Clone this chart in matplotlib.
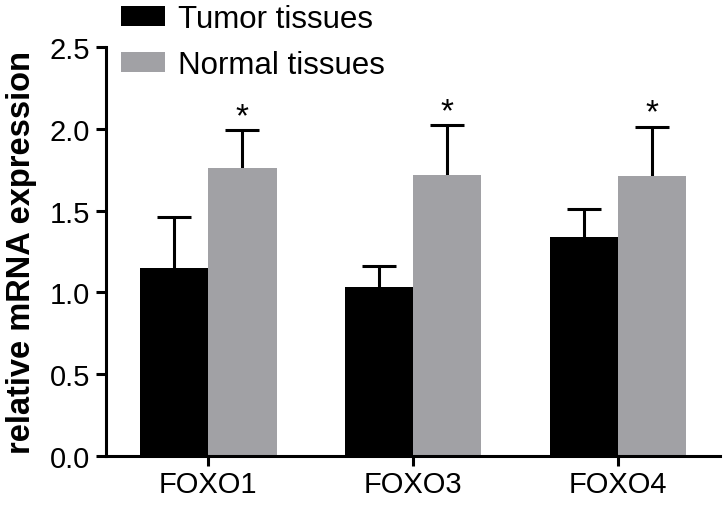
"""Relative mRNA expression of FOXO genes in tumor vs normal tissues."""

import numpy as np
import matplotlib
matplotlib.use("Agg")
import matplotlib.pyplot as plt

genes = ["FOXO1", "FOXO3", "FOXO4"]
tumor_mean = [1.15, 1.03, 1.34]
tumor_err = [0.31, 0.13, 0.17]
normal_mean = [1.76, 1.72, 1.71]
normal_err = [0.23, 0.30, 0.30]
significance = ["*", "*", "*"]
series_labels = ["Tumor tissues", "Normal tissues"]
y_ticks = [0.0, 0.5, 1.0, 1.5, 2.0, 2.5]

plt.rcParams["font.family"] = ["Liberation Sans", "DejaVu Sans"]

fig = plt.figure(figsize=(7.23, 5.10), dpi=100)
ax = fig.add_axes([0.1466, 0.104, 0.8494, 0.802])

x = np.arange(len(genes))
width = 1 / 3
lw = 2.2


def _bars_with_upper_error(xpos, mean, err, color, label):
    """Bars with an upper-only error whisker and a single top cap."""
    mean = np.asarray(mean)
    err = np.asarray(err)
    ax.bar(xpos, mean, width, color=color, label=label, zorder=2)
    ax.errorbar(xpos, mean, yerr=[np.zeros(len(mean)), err], fmt="none",
                ecolor="black", elinewidth=lw, capsize=0, zorder=1)
    ax.plot(xpos, mean + err, ls="none", marker="_", markersize=24,
            markeredgewidth=lw, color="black", zorder=3)


_bars_with_upper_error(x - width / 2, tumor_mean, tumor_err, "black", series_labels[0])
_bars_with_upper_error(x + width / 2, normal_mean, normal_err, "#a1a1a5", series_labels[1])

for xi, m, e, s in zip(x, normal_mean, normal_err, significance):
    ax.annotate(s, (xi + width / 2, m + e), xytext=(0, -1),
                textcoords="offset points", ha="center", va="bottom",
                fontsize=24)

ax.set_xlim(-0.5, 2.5)
ax.set_ylim(0, 2.5)
ax.set_yticks(y_ticks)
ax.set_yticklabels([f"{t:.1f}" for t in y_ticks])
ax.set_xticks(x)
ax.set_xticklabels(genes)
ax.tick_params(axis="both", labelsize=21, width=lw, direction="out", colors="black")
ax.tick_params(axis="y", length=7.5, pad=4)
ax.tick_params(axis="x", length=7, pad=3)

for side in ["top", "right"]:
    ax.spines[side].set_visible(False)
for side in ["left", "bottom"]:
    ax.spines[side].set_linewidth(lw)

ax.set_ylabel("relative mRNA expression", fontsize=23.5, fontweight="bold", labelpad=9)

fig.legend(loc="upper left", bbox_to_anchor=(0.168, 0.99), frameon=False,
           fontsize=22.5, handlelength=1.4, handleheight=0.6, handletextpad=0.4,
           labelspacing=0.5, borderaxespad=0, borderpad=0)

fig.savefig("out.png", dpi=100)
